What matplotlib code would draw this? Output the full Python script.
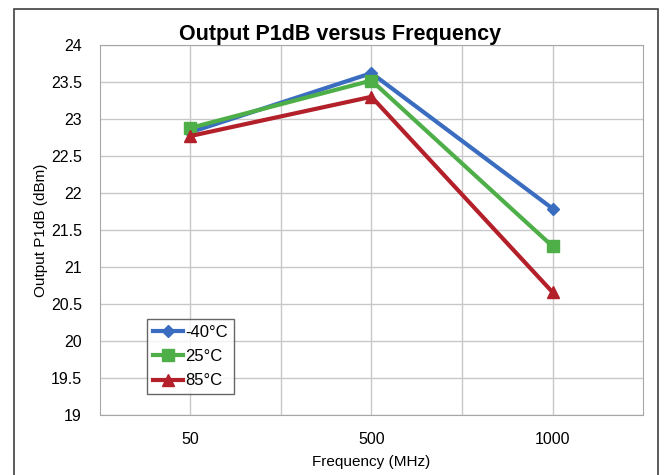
import numpy as np
import matplotlib.pyplot as plt
from matplotlib.patches import Rectangle

plt.rcParams['font.family'] = ['Liberation Sans', 'DejaVu Sans']

freqs = ['50', '500', '1000']
p1db_m40 = [22.82, 23.62, 21.79]
p1db_25 = [22.88, 23.52, 21.28]
p1db_85 = [22.77, 23.30, 20.66]
labels = ['-40°C', '25°C', '85°C']
colors = ['#3A6DBF', '#4EAF48', '#B3202A']
markers = ['D', 's', '^']

fig = plt.figure(figsize=(6.66, 4.75), dpi=100)
ax = fig.add_axes([0.150, 0.1263, 0.8155, 0.779])

x = np.arange(len(freqs))
for ys, lab, c, m, ms in zip([p1db_m40, p1db_25, p1db_85], labels, colors, markers, [6, 8, 8]):
    ax.plot(x, ys, color=c, lw=3, marker=m, ms=ms, label=lab, zorder=3)

ax.set_xlim(-0.5, 2.5)
ax.set_ylim(19, 24)
ax.set_xticks(x)
ax.set_xticklabels(freqs)
ax.set_xticks([0.5, 1.5], minor=True)
ax.set_yticks(np.arange(19, 24.01, 0.5))
ax.set_yticklabels(['19', '19.5', '20', '20.5', '21', '21.5', '22', '22.5', '23', '23.5', '24'])
ax.grid(True, which='both', axis='x', color='#C8C8C8', lw=1)
ax.grid(True, which='major', axis='y', color='#C8C8C8', lw=1)
ax.set_axisbelow(True)
ax.tick_params(which='both', length=0, labelsize=11.5)
ax.tick_params(axis='y', pad=13)
ax.tick_params(axis='x', pad=12)
for s in ax.spines.values():
    s.set_color('#A6A6A6')

ax.set_xlabel('Frequency (MHz)', fontsize=11, labelpad=6)
ax.set_ylabel('Output P1dB (dBm)', fontsize=11, labelpad=2)
fig.text(0.51, 0.928, 'Output P1dB versus Frequency', ha='center', va='center',
         fontsize=15.5, fontweight='bold')

leg = ax.legend(loc='lower left', bbox_to_anchor=(0.087, 0.056), fontsize=12,
                frameon=True, fancybox=False, handlelength=1.8, handletextpad=0.15,
                borderpad=0.35, labelspacing=0.55, borderaxespad=0)
leg.get_frame().set_edgecolor('#404040')
leg.get_frame().set_linewidth(1)

fig.patches.append(Rectangle((14 / 666, -0.05), 644 / 666, 1 - 9 / 475 + 0.05,
                             transform=fig.transFigure, fill=False,
                             edgecolor='#404040', lw=1.2))

fig.savefig('out.png', dpi=100)
